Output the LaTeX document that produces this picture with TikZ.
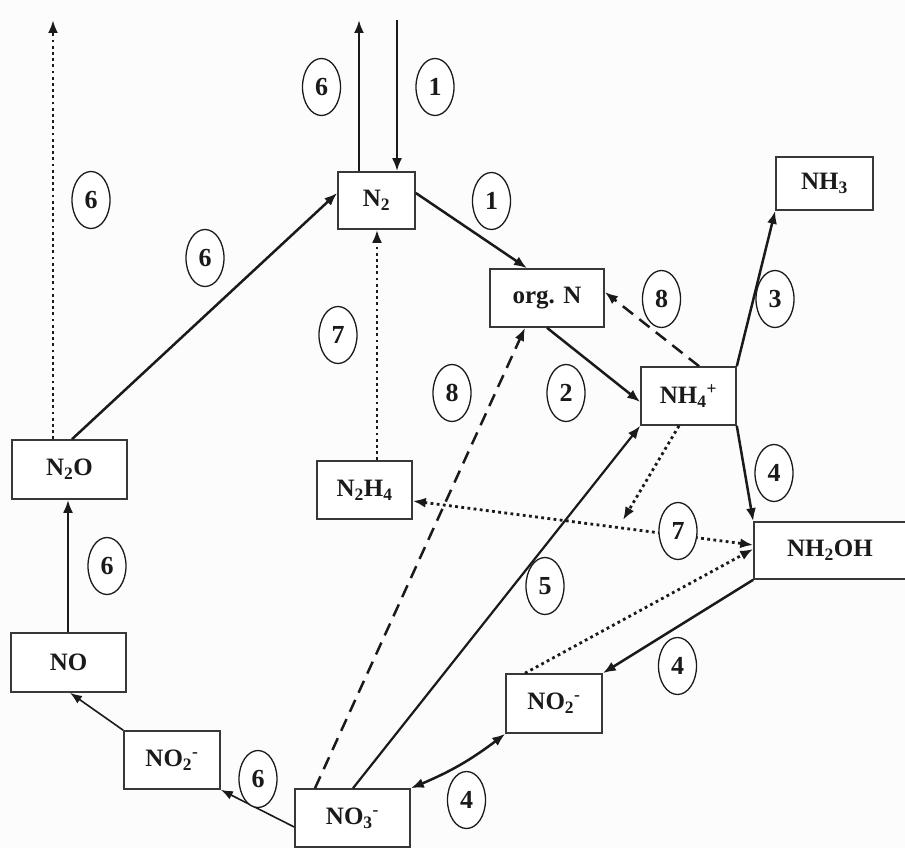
\documentclass[tikz,border=0pt]{standalone}
\usepackage{fontspec}
\setmainfont{Liberation Serif}
\usetikzlibrary{arrows.meta,shapes.geometric,bending}
\definecolor{ink}{HTML}{1A1A1A}
\definecolor{boxline}{HTML}{383838}
\definecolor{bg}{HTML}{FCFCFC}
\begin{document}
\begin{tikzpicture}[x=1pt,y=-1pt,
  box/.style={draw=boxline,line width=1.6pt,fill=white,inner sep=0pt,font=\fontsize{25}{28}\selectfont\bfseries,text=ink},
  num/.style={ellipse,draw=ink,line width=1.3pt,fill=white,inner sep=0pt,minimum width=38pt,minimum height=57pt,font=\fontsize{26}{28}\selectfont\bfseries,text=ink},
  conn/.style={draw=ink,line width=2.5pt,-{Latex[length=13pt,width=10pt]}},
  thinconn/.style={draw=ink,line width=1.6pt,-{Latex[length=12pt,width=9pt]}},
  dotconn/.style={conn,line width=2.8pt,dash pattern=on 2.8pt off 3.4pt},
  dashconn/.style={conn,dash pattern=on 13pt off 8pt},
  both/.style={{Latex[length=13pt,width=10pt]}-{Latex[length=13pt,width=10pt]}},
]
\path[use as bounding box,fill=bg] (0,0) rectangle (905,848);

% boxes
\node[box,minimum width=77pt,minimum height=57pt] (N2) at (376.5,200.5) {N\textsubscript{2}};
\node[box,minimum width=114pt,minimum height=58pt] (orgN) at (547,298) {org. N};
\node[box,minimum width=97pt,minimum height=53pt] (NH3) at (824.5,183.5) {NH\textsubscript{3}};
\node[box,minimum width=95pt,minimum height=58pt] (NH4) at (688.5,396) {NH\textsubscript{4}\textsuperscript{+}};
\node[box,minimum width=115pt,minimum height=59pt] (N2O) at (69.5,469.5) {N\textsubscript{2}O};
\node[box,minimum width=95pt,minimum height=58pt] (N2H4) at (364.5,490) {N\textsubscript{2}H\textsubscript{4}};
\node[box,minimum width=152pt,minimum height=57pt] (NH2OH) at (830,550.5) {NH\textsubscript{2}OH};
\node[box,minimum width=96pt,minimum height=59pt] (NO2r) at (554,703.5) {NO\textsubscript{2}\textsuperscript{-}};
\node[box,minimum width=115pt,minimum height=58pt] (NO3) at (352.5,818) {NO\textsubscript{3}\textsuperscript{-}};
\node[box,minimum width=96pt,minimum height=58pt] (NO2l) at (172,760) {NO\textsubscript{2}\textsuperscript{-}};
\node[box,minimum width=115pt,minimum height=59pt] (NO) at (68.5,662.5) {NO};

% free ends and guides
\coordinate (t6) at (359,20);
\coordinate (t1) at (397,20);
\coordinate (t6l) at (53,20);
\coordinate (x7) at (377,0);
\coordinate (xno) at (68,0);
\coordinate (p7) at (623,520);

% connectors
\draw[conn] (t6 |- N2.north) -- (t6);
\draw[conn] (t1) -- (t1 |- N2.north);
\draw[dotconn] (t6l |- N2O.north) -- (t6l);
\draw[conn] ([xshift=2.5pt]N2O.north) -- ([yshift=7.5pt]N2.west);
\draw[dotconn] (x7 |- N2H4.north) -- (x7 |- N2.south);
\draw[conn] ([yshift=7.5pt]N2.east) -- ([xshift=-20pt]orgN.north);
\draw[conn] (orgN.south) -- ([yshift=-6pt]NH4.west);
\draw[dashconn] ([xshift=10.5pt]NH4.north) -- ([yshift=6pt]orgN.east);
\draw[conn] (NH4.north east) -- (NH3.south west);
\draw[conn] (NH4.south east) -- (NH2OH.north west);
\draw[dotconn] ([xshift=-9.5pt]NH4.south) -- (p7);
\draw[dotconn,both] ([yshift=-11pt]N2H4.east) -- ([yshift=5.5pt]NH2OH.west);
\draw[dotconn] ([xshift=-29pt]NO2r.north) -- ([yshift=1.5pt]NH2OH.west);
\draw[conn] (NH2OH.south west) -- (NO2r.north east);
\draw[conn,both] (NO3.north east) to[bend right=8] (NO2r.south west);
\draw[conn,line width=2.2pt] ([xshift=0.5pt]NO3.north) -- (NH4.south west);
\draw[dashconn] ([xshift=-37.5pt]NO3.north) -- ([xshift=-22pt]orgN.south);
\draw[thinconn] ([yshift=-9pt]NO3.west) -- (NO2l.south east);
\draw[thinconn] (NO2l.north west) -- ([xshift=1.5pt]NO.south);
\draw[conn] (xno |- NO.north) -- (xno |- N2O.south);

% reaction numbers
\node[num] (c6a) at (321.5,87) {6};
\node[num] (c1a) at (435,87) {1};
\node[num] (c6b) at (91,200) {6};
\node[num] (c6c) at (205,258) {6};
\node[num] (c1b) at (491.5,201) {1};
\node[num] (c8a) at (661.5,299) {8};
\node[num] (c3) at (775,299) {3};
\node[num] (c7a) at (338,335) {7};
\node[num] (c8b) at (452,393) {8};
\node[num] (c2) at (566,393) {2};
\node[num] (c4a) at (774,473) {4};
\node[num] (c7b) at (678,531) {7};
\node[num] (c5) at (545,586) {5};
\node[num] (c6d) at (107,566) {6};
\node[num] (c4b) at (677.5,666) {4};
\node[num] (c4c) at (466.5,800) {4};
\node[num] (c6e) at (258,779) {6};
\end{tikzpicture}
\end{document}
